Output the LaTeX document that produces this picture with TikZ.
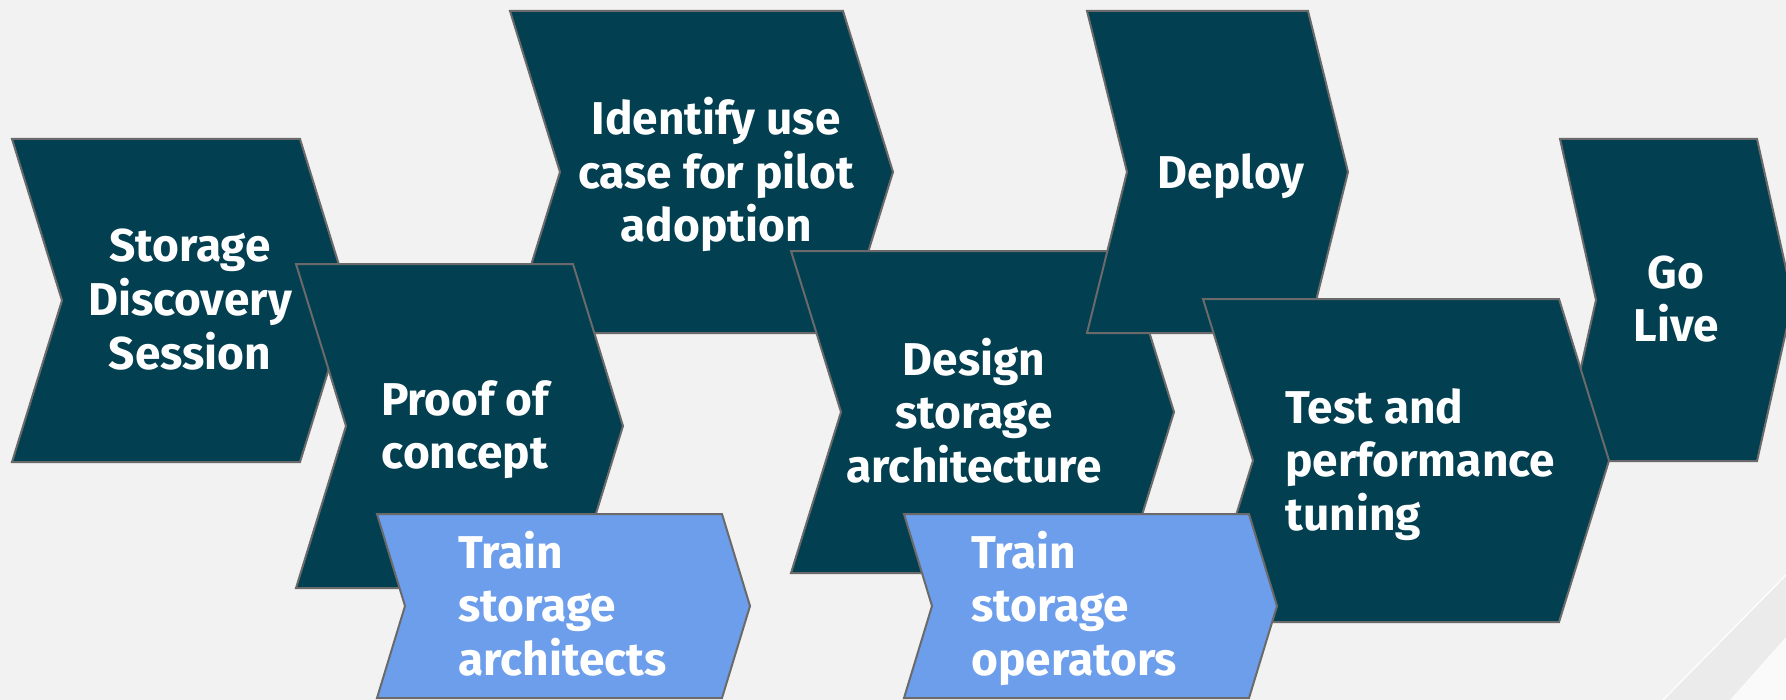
\documentclass[tikz,border=0pt]{standalone}
\usepackage{fontspec}
\setmainfont{Fira Sans}
\usepackage{tikz}
\definecolor{chevdark}{HTML}{023F50}
\definecolor{chevlight}{HTML}{6D9EEB}
\definecolor{edgegray}{HTML}{6A6A6A}
\definecolor{bggray}{HTML}{F2F2F2}
\begin{document}
\begin{tikzpicture}[x=0.5pt,y=-0.5pt,
    dark/.style={fill=chevdark,draw=edgegray,line width=1pt},
    light/.style={fill=chevlight,draw=edgegray,line width=1pt},
    txt/.style={text=white,inner sep=0pt,font=\fontsize{23}{26.75}\selectfont\bfseries}]
      \fill[bggray] (0,0) rectangle (1786,700);
      \useasboundingbox (0,0) rectangle (1786,700);
      \fill[black!8] (1663,700) -- (1786,575) -- (1786,637) -- (1730,700) -- cycle;
      \fill[white!60!bggray] (1730,700) -- (1786,637) -- (1786,700) -- cycle;
      \draw[white,line width=0.6pt] (1663,700) -- (1786,575);
      \filldraw[dark] (12,139) -- (300,139) -- (350,300.5) -- (300,462) -- (12,462) -- (62,300.5) -- cycle;
      \node[txt,anchor=base] (discovery) at (190,262)
        {\begin{tabular}[t]{@{}c@{}}Storage\\Discovery\\Session\end{tabular}};
      \filldraw[dark] (510,11) -- (843,11) -- (893,172) -- (843,333) -- (510,333) -- (560,172) -- cycle;
      \node[txt,anchor=base] (usecase) at (716,135)
        {\begin{tabular}[t]{@{}c@{}}Identify use\\case for pilot\\adoption\end{tabular}};
      \filldraw[dark] (296,264) -- (573,264) -- (623,426) -- (573,588) -- (296,588) -- (346,426) -- cycle;
      \node[txt,anchor=base] (proof) at (465,415)
        {\begin{tabular}[t]{@{}c@{}}Proof of\\concept\end{tabular}};
      \filldraw[dark] (791,251) -- (1124,251) -- (1174,412) -- (1124,573) -- (791,573) -- (841,412) -- cycle;
      \node[txt,anchor=base] (design) at (974,375)
        {\begin{tabular}[t]{@{}c@{}}Design\\storage\\architecture\end{tabular}};
      \filldraw[dark] (1087,11) -- (1308,11) -- (1348,172) -- (1308,333) -- (1087,333) -- (1127,172) -- cycle;
      \node[txt,anchor=base] (deploy) at (1231,189) {Deploy};
      \filldraw[dark] (1560,139) -- (1757,139) -- (1793,300) -- (1757,461) -- (1560,461) -- (1596,300) -- cycle;
      \node[txt,anchor=base] (golive) at (1676,288)
        {\begin{tabular}[t]{@{}c@{}}Go\\Live\end{tabular}};
      \filldraw[dark] (1203,299) -- (1559,299) -- (1609,460.5) -- (1559,622) -- (1203,622) -- (1253,460.5) -- cycle;
      \node[txt,anchor=base west] (testing) at (1285,423)
        {\begin{tabular}[t]{@{}l@{}}Test and\\performance\\tuning\end{tabular}};
      \filldraw[light] (377,514) -- (722,514) -- (750,606) -- (722,698) -- (377,698) -- (405,606) -- cycle;
      \node[txt,anchor=base west] (architects) at (458,568)
        {\begin{tabular}[t]{@{}l@{}}Train\\storage\\architects\end{tabular}};
      \filldraw[light] (904,514) -- (1249,514) -- (1277,606) -- (1249,698) -- (904,698) -- (932,606) -- cycle;
      \node[txt,anchor=base west] (operators) at (971,568)
        {\begin{tabular}[t]{@{}l@{}}Train\\storage\\operators\end{tabular}};
    \end{tikzpicture}
\end{document}
